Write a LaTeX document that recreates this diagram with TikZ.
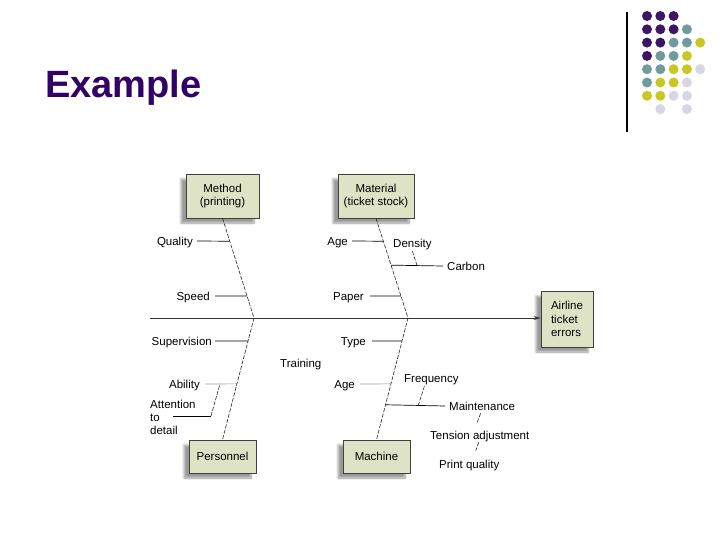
\documentclass[tikz,border=0pt]{standalone}
\usepackage{fontspec}
\setmainfont{Liberation Sans}
\usetikzlibrary{calc,arrows.meta,shadows.blur}
\definecolor{titlepurple}{RGB}{51,0,102}
\definecolor{dpurple}{RGB}{60,22,100}
\definecolor{dteal}{RGB}{110,155,155}
\definecolor{dyellow}{RGB}{200,200,35}
\definecolor{dlav}{RGB}{214,214,230}
\definecolor{boxfill}{RGB}{222,227,198}
\begin{document}
\begin{tikzpicture}[x=1pt,y=-1pt,
  lbl/.style={inner sep=0pt, font=\fontsize{11.5}{13}\selectfont, text height=8.2pt, text depth=0pt},
  box/.style={draw=black!75, line width=0.6pt, fill=boxfill, inner sep=0pt, align=center,
    font=\fontsize{11.5}{13.5}\selectfont,
    blur shadow={shadow xshift=-5pt, shadow yshift=-5pt, shadow blur steps=8, shadow opacity=40}},
  bone/.style={draw=black!85, line width=0.6pt, dash pattern=on 4pt off 1.5pt},
  rib/.style={draw=black, line width=0.7pt},
  grayrib/.style={draw=black!40, line width=0.7pt},
  spine/.style={draw=black!80, line width=0.7pt, -{Stealth[length=7pt,width=4pt]}}]

\useasboundingbox (0,0) rectangle (720,540);

% title and decoration
\node[anchor=base west, inner sep=0pt, text=titlepurple, font=\fontsize{38}{40}\selectfont\bfseries] (title) at (45,98) {Example};
\draw[line width=1.2pt] (627,12) -- (627,132);
\foreach \c/\r/\col in {0/0/dpurple,1/0/dpurple,2/0/dpurple,
  0/1/dpurple,1/1/dpurple,2/1/dpurple,3/1/dteal,
  0/2/dpurple,1/2/dpurple,2/2/dteal,3/2/dteal,4/2/dyellow,
  0/3/dpurple,1/3/dteal,2/3/dteal,3/3/dyellow,
  0/4/dteal,1/4/dteal,2/4/dyellow,3/4/dyellow,4/4/dlav,
  0/5/dteal,1/5/dyellow,2/5/dyellow,3/5/dlav,
  0/6/dyellow,1/6/dyellow,2/6/dlav,3/6/dlav,
  1/7/dlav,3/7/dlav}
  \fill[\col] ({647+13.3*\c},{16+13.3*\r}) circle[radius=5];

% boxes
\node[box, minimum width=73pt, minimum height=44pt] (method) at (222.5,196) {Method\\(printing)};
\node[box, minimum width=76pt, minimum height=44pt] (material) at (376,196) {Material\\(ticket stock)};
\node[box, minimum width=67pt, minimum height=33pt] (personnel) at (222.5,456.5) {Personnel};
\node[box, minimum width=67pt, minimum height=33pt] (machine) at (376.5,456.5) {Machine};
\node[box, minimum width=52pt, minimum height=56pt, align=left] (airline) at (567,319) {Airline\\ticket\\errors};

% spine
\coordinate (tail) at (150,318);
\coordinate (j1) at (254,318);
\coordinate (j2) at (408,318);
\draw[spine] (tail) -- (tail -| airline.west);

% bones
\draw[bone] (method.south) -- (j1) -- (personnel.north);
\draw[bone] (material.south) -- (j2) -- (machine.north);

% labels
\node[lbl, anchor=east] (quality) at (193,241) {Quality};
\node[lbl, anchor=east] (speed) at (210,296) {Speed};
\node[lbl, anchor=east] (superv) at (212,341) {Supervision};
\node[lbl, anchor=east] (ability) at (200,384) {Ability};
\node[inner sep=0pt, anchor=north west, align=left, font=\fontsize{11.5}{13}\selectfont] (att) at (150,400) {Attention\\to\\detail};
\node[lbl, anchor=west] (training) at (280,363) {Training};
\node[lbl, anchor=east] (age1) at (348,241) {Age};
\node[lbl, anchor=west] (density) at (393,243) {Density};
\node[lbl, anchor=west] (carbon) at (447,266) {Carbon};
\node[lbl, anchor=east] (paper) at (364,296) {Paper};
\node[lbl, anchor=east] (type) at (366,341) {Type};
\node[lbl, anchor=east] (age2) at (355,384) {Age};
\node[lbl, anchor=west] (freq) at (404,378) {Frequency};
\node[lbl, anchor=west] (maint) at (449,406) {Maintenance};
\node[lbl, anchor=west] (tension) at (430,435) {Tension adjustment};
\node[lbl, anchor=west] (print) at (439,464) {Print quality};

% ribs - method / personnel
\draw[rib] ([xshift=4pt]quality.east) -- ($(method.south)!0.23!(j1)$);
\draw[rib] ([xshift=5pt]speed.east) -- ($(method.south)!0.78!(j1)$);
\draw[rib] ([xshift=3pt]superv.east) -- ($(j1)!0.189!(personnel.north)$);
\coordinate (ab1) at ([xshift=5pt]ability.east);
\coordinate (ab2) at ($(j1)!0.541!(personnel.north)$);
\draw[grayrib] (ab1) -- (ab2);
\coordinate (at1) at (173,416);
\coordinate (at2) at (211,416);
\draw[rib] (at1) -- (at2);
\draw[bone] (at2) -- ($(ab1)!0.47!(ab2)$);

% ribs - material / machine
\draw[rib] ([xshift=4pt]age1.east) -- ($(material.south)!0.23!(j2)$);
\coordinate (cb1) at ($(material.south)!0.47!(j2)$);
\coordinate (cb2) at ([xshift=-4pt]carbon.west);
\draw[rib] (cb1) -- (cb2);
\draw[bone] ([yshift=-4pt]density.south) -- ($(cb1)!0.5!(cb2)$);
\draw[rib] ([xshift=6pt]paper.east) -- ($(material.south)!0.78!(j2)$);
\draw[rib] ([xshift=6pt]type.east) -- ($(j2)!0.189!(machine.north)$);
\draw[grayrib] ([xshift=5pt]age2.east) -- ($(j2)!0.541!(machine.north)$);
\coordinate (mt1) at ($(j2)!0.713!(machine.north)$);
\coordinate (mt2) at ([xshift=-4pt]maint.west);
\draw[rib] (mt1) -- (mt2);
\draw[bone] ([xshift=-7pt,yshift=-4pt]freq.south) -- ($(mt1)!0.55!(mt2)$);
\draw[bone] ([xshift=-1.5pt,yshift=-3pt]maint.south) -- ([xshift=-3pt,yshift=7pt]tension.north);
\draw[bone] ([xshift=-1pt,yshift=-3pt]tension.south) -- ([xshift=6.5pt,yshift=9pt]print.north);

\end{tikzpicture}
\end{document}
